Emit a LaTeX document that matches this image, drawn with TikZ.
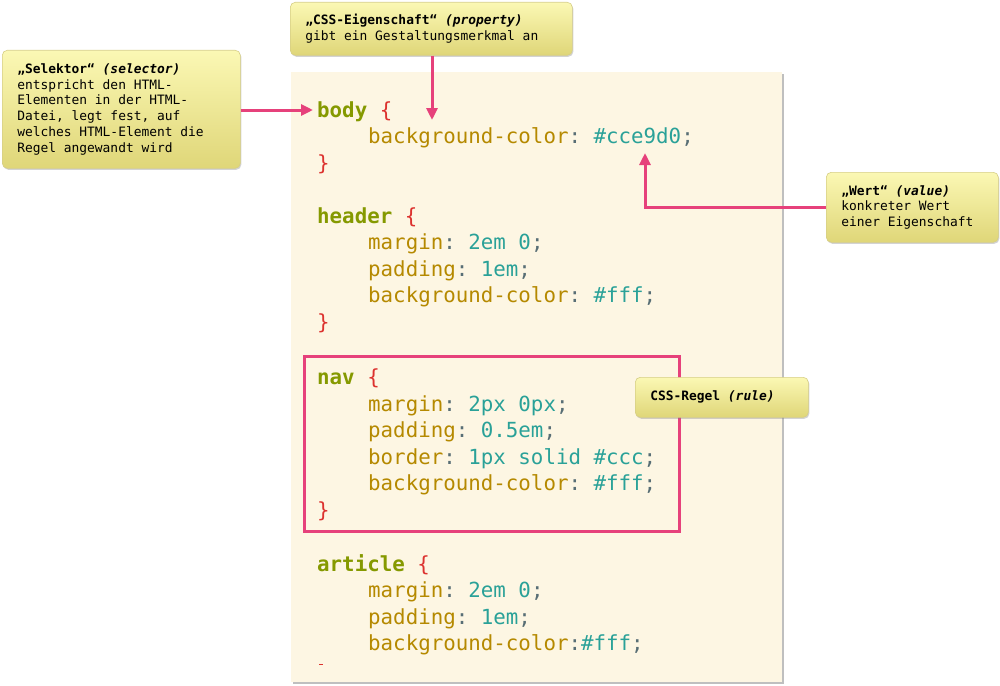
\documentclass[tikz,border=0pt]{standalone}
\usepackage{fontspec}
\setmonofont{DejaVu Sans Mono}
\usetikzlibrary{arrows.meta,shadows,positioning}

\definecolor{panelbg}{HTML}{FDF6E3}
\definecolor{selgreen}{HTML}{859900}
\definecolor{bracered}{HTML}{DC322F}
\definecolor{propyellow}{HTML}{B58900}
\definecolor{valcyan}{HTML}{2AA198}
\definecolor{puncgrey}{HTML}{586E75}
\definecolor{markpink}{HTML}{E6417B}
\definecolor{notetop}{HTML}{FBF8B4}
\definecolor{notebot}{HTML}{DFD678}
\definecolor{notedge}{HTML}{D6CE86}

\newcommand{\codefont}{\ttfamily\fontsize{20.8}{26}\selectfont}
\newcommand{\notefont}{\ttfamily\fontsize{12.9}{15.7}\selectfont}
\newcommand{\csel}[1]{\textcolor{selgreen}{\bfseries #1}}
\newcommand{\cbr}[1]{\textcolor{bracered}{#1}}
\newcommand{\cprop}[1]{\textcolor{propyellow}{#1}}
\newcommand{\cval}[1]{\textcolor{valcyan}{#1}}
\newcommand{\cpun}[1]{\textcolor{puncgrey}{#1}}

\tikzset{
  code/.style={anchor=base west, inner sep=0pt, font=\codefont},
  note/.style={draw=notedge, line width=0.6pt, rounded corners=5pt,
    top color=notetop, bottom color=notebot,
    drop shadow={opacity=0.35, shadow xshift=1pt, shadow yshift=-1.5pt},
    align=left, font=\notefont, inner xsep=15pt, inner ysep=0pt,
    execute at begin node={\spaceskip=0pt\xspaceskip=0pt\relax}},
  pinkarrow/.style={draw=markpink, line width=3pt,
    -{Triangle[length=12pt,width=11pt]}},
}

\begin{document}
\begin{tikzpicture}[x=1pt,y=-1pt]
\useasboundingbox (0,0) rectangle (1000,685);

% Code panel
\fill[panelbg, drop shadow={opacity=0.5, shadow xshift=1.5pt, shadow yshift=-1.5pt}]
  (291,72) rectangle (782,682);

% body
\node[code] (body) at (317,117) {\csel{body} \cbr{\{}};
\node[code] (bodybg) at (368,143.5) {\cprop{background-color}\cpun{:} \cval{\#cce9d0}\cpun{;}};
\node[code] at (317,170) {\cbr{\}}};
% header
\node[code] (header) at (317,223) {\csel{header} \cbr{\{}};
\node[code] at (368,249.5) {\cprop{margin}\cpun{:} \cval{2em 0}\cpun{;}};
\node[code] at (368,276) {\cprop{padding}\cpun{:} \cval{1em}\cpun{;}};
\node[code] at (368,302.5) {\cprop{background-color}\cpun{:} \cval{\#fff}\cpun{;}};
\node[code] at (317,329) {\cbr{\}}};
% nav
\node[code] (nav) at (317,384) {\csel{nav} \cbr{\{}};
\node[code] at (368,411) {\cprop{margin}\cpun{:} \cval{2px 0px}\cpun{;}};
\node[code] at (368,437.5) {\cprop{padding}\cpun{:} \cval{0.5em}\cpun{;}};
\node[code] at (368,464) {\cprop{border}\cpun{:} \cval{1px solid \#ccc}\cpun{;}};
\node[code] at (368,490.5) {\cprop{background-color}\cpun{:} \cval{\#fff}\cpun{;}};
\node[code] at (317,517) {\cbr{\}}};
% article
\node[code] (article) at (317,571) {\csel{article} \cbr{\{}};
\node[code] at (368,597.5) {\cprop{margin}\cpun{:} \cval{2em 0}\cpun{;}};
\node[code] at (368,624) {\cprop{padding}\cpun{:} \cval{1em}\cpun{;}};
\node[code] at (368,650.5) {\cprop{background-color}\cpun{:}\cval{\#fff}\cpun{;}};
\draw[bracered, line width=1pt] (319,664.5) -- (322.5,664.5);

% Rule frame
\draw[markpink, line width=3pt] (304,356.5) rectangle (679,531);

% Notes
\node[note, anchor=north west, text width=208pt, minimum height=118pt] (sel) at (2,50)
  {\textbf{„Selektor“ \textit{(selector)}}\\entspricht den HTML-\\Elementen in der HTML-\\Datei, legt fest, auf\\welches HTML-Element die\\Regel angewandt wird};
\node[note, anchor=north west, text width=252pt, minimum height=53pt] (prop) at (290,2)
  {\textbf{„CSS-Eigenschaft“ \textit{(property)}}\\gibt ein Gestaltungsmerkmal an};
\node[note, anchor=north west, text width=142pt, minimum height=70pt] (val) at (826,172)
  {\textbf{„Wert“ \textit{(value)}}\\konkreter Wert\\einer Eigenschaft};
\node[note, anchor=north west, text width=143pt, minimum height=40pt] (rule) at (635,377)
  {\textbf{CSS-Regel \textit{(rule)}}};

% Arrows
\coordinate (propTip) at (432,120);
\coordinate (valTip) at (645,153);
\draw[pinkarrow] (sel.east |- 0,110) -- (313,110);
\draw[pinkarrow] (prop.south -| propTip) -- (propTip);
\draw[pinkarrow] (val.west) -| (valTip);

\end{tikzpicture}
\end{document}
